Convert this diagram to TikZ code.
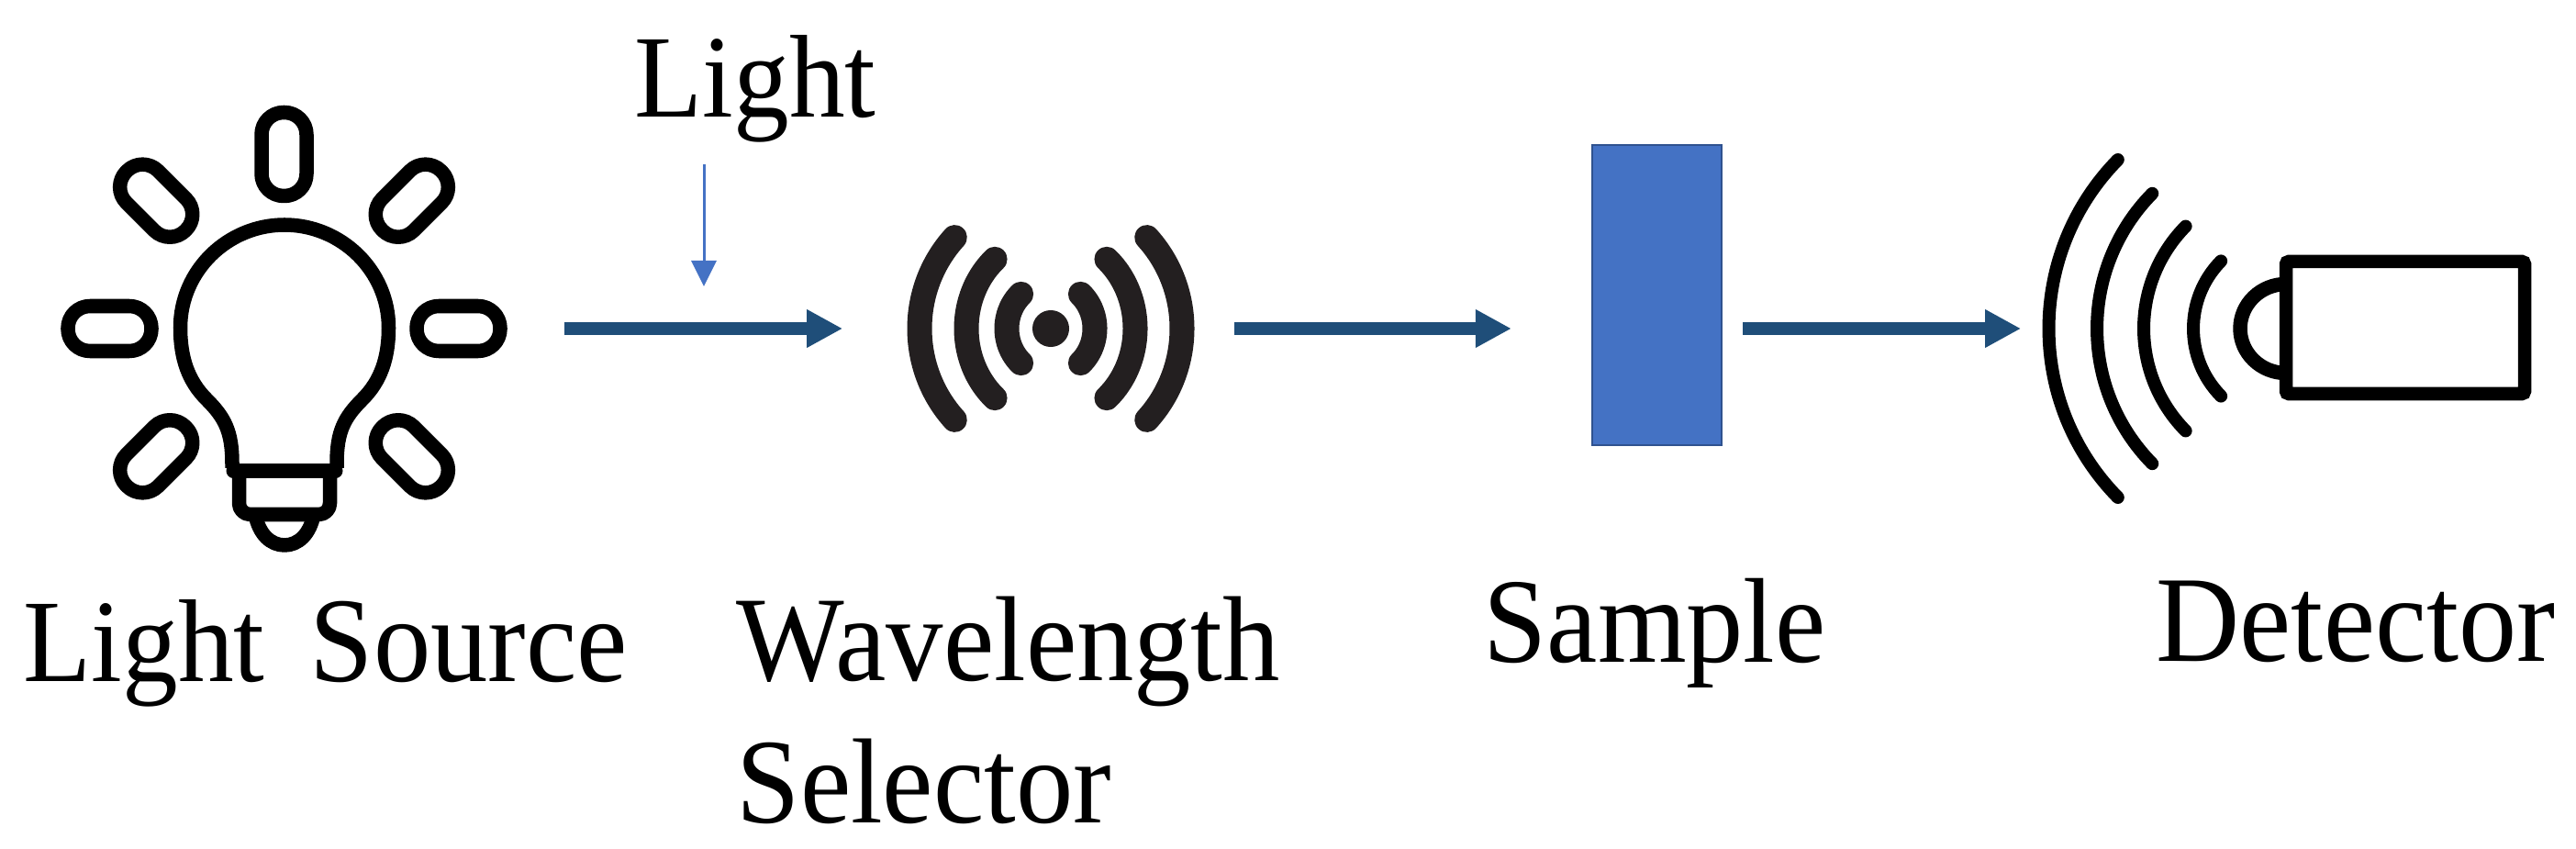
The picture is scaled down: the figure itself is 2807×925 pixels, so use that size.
\documentclass[tikz,border=0pt]{standalone}
\usepackage{fontspec}
\setmainfont[FakeStretch=0.945]{Liberation Serif}
\usetikzlibrary{arrows.meta}
\definecolor{beamblue}{HTML}{1F4E79}
\definecolor{sampleblue}{HTML}{4472C4}
\definecolor{sampleedge}{HTML}{2F528F}
\definecolor{signalblack}{HTML}{231F20}
\tikzset{
  caption/.style={inner sep=0pt, anchor=base west, align=left, font=\fontsize{#1}{44}\selectfont},
  iconbox/.style={inner sep=0pt, minimum height=3.7cm},
  beam/.style={color=beamblue, line width=0.13cm, -{Triangle[length=0.39cm,width=0.39cm]}},
  thinbeam/.style={color=sampleblue, line width=0.03cm, -{Triangle[length=0.28cm,width=0.27cm]}},
  bulbline/.style={line width=0.155cm, line join=round},
  signal/.style={color=signalblack, line width=0.27cm, line cap=round},
  wave/.style={line width=0.14cm, line cap=round}
}

\begin{document}
\begin{tikzpicture}[x=0.01cm, y=-0.01cm]
      \useasboundingbox (0,0) rectangle (2807,925);

      % texts
      \node[caption=36.5] (lightlabel) at (691,128) {Light};
      \node[caption=36.5] (sourcelabel) at (25,742)
      {Light\hspace{14pt}{\fontsize{37.5}{44}\selectfont Source}};
      \node[caption=37.5] (selectorlabel) at (802,896) {Wavelength\\Selector};
      \node[caption=37.4] (samplelabel) at (1616,721) {Sample};
      \node[caption=38] (detectorlabel) at (2349,720) {Detector};

      % places of the icons
      \node[iconbox, minimum width=4.88cm] (source) at (309,358) {};
      \node[iconbox, minimum width=3.14cm] (selector) at (1144,358) {};
      \node[iconbox, minimum width=5.33cm] (detector) at (2491.5,358) {};
      \node[fill=sampleblue, draw=sampleedge, line width=0.02cm, inner sep=0pt,
        minimum width=1.41cm, minimum height=3.27cm] (sample) at (1805.5,321.5) {};
      \coordinate (lighthit) at (767,312);

      % bulb
      \draw[bulbline]
      (253,510) -- (253,505) .. controls (253,470) and (245,455) .. (225,435)
      .. controls (205,415) and (196.5,390) .. (196.5,357)
      .. controls (196.5,295) and (248,245) .. (310,245)
      .. controls (372,245) and (423.5,295) .. (423.5,357)
      .. controls (423.5,390) and (415,415) .. (395,435)
      .. controls (375,455) and (367,470) .. (367,505) -- (367,510);
      \draw[line width=0.15cm, line cap=round] (254,513) -- (366,513);
      \draw[bulbline, rounded corners=0.12cm] (260.5,513) -- (260.5,560.5) -- (359.5,560.5) -- (359.5,513);
      \draw[bulbline] (278,560) .. controls (282,582) and (295,594) .. (310,594)
      .. controls (325,594) and (338,582) .. (342,560);

      % rays of the bulb
      \foreach \ang/\dist in {-135/197,-90/190,-45/197,0/190,45/197,90/190,135/197}
      {
        \draw[bulbline, shift={(309.5,358)}, rotate=\ang, rounded corners=0.24cm]
        (-24.5,-\dist-45.5) rectangle (24.5,-\dist+45.5);
      }

      % selector
      \fill[signalblack] (1145,358) circle (0.2cm);
      \foreach \a/\b/\t in {48/51/47.5,92/101/48.5,143/146/42.9}
      {
        \draw[signal] (1145,358) ++({180-\t}:{\a} and {\b})
        arc[start angle=180-\t, end angle=180+\t, x radius=\a, y radius=\b];
        \draw[signal] (1145,358) ++({\t}:{\a} and {\b})
        arc[start angle=\t, end angle=-\t, x radius=\a, y radius=\b];
      }

      % detector
      \draw[line width=0.145cm, rounded corners=0.03cm] (2491,285) rectangle (2751,429);
      \draw[bulbline] (2491,309.5) arc[start angle=-90, end angle=-270, x radius=50, y radius=48.5];
      \foreach \r in {105,159,210,262.5}
      {
        \draw[wave] (2495,358) ++(180-44.5:\r) arc[start angle=180-44.5, end angle=180+44.5, radius=\r];
      }

      % connectors
      \draw[beam, shorten <=0.61cm, shorten >=0.68cm] (source) -- (selector);
      \draw[beam, shorten <=0.43cm, shorten >=0.87cm] (selector) -- (sample.west |- selector);
      \draw[beam, shorten <=0.22cm, shorten >=0.22cm] (sample.east |- detector) -- (detector);
      \draw[thinbeam, shorten <=0.23cm] (lightlabel.south -| lighthit) -- (lighthit);
\end{tikzpicture}
\end{document}
